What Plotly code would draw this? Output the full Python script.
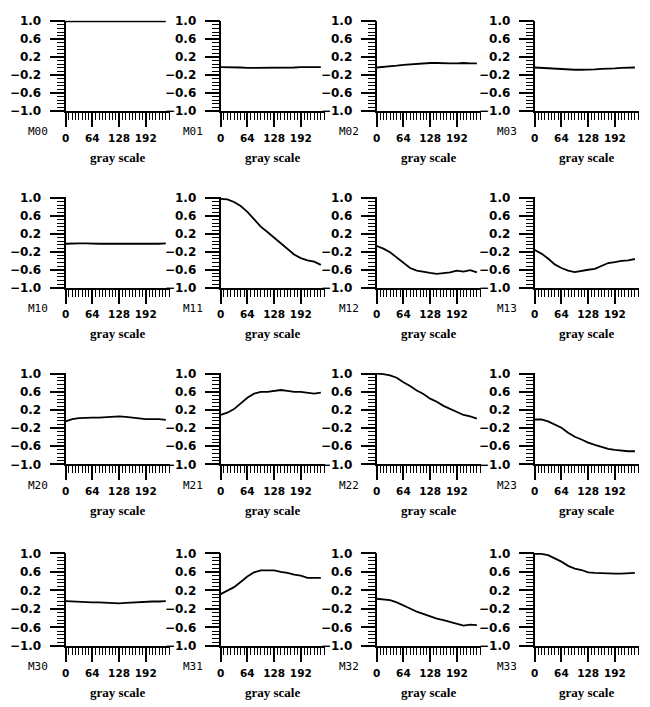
import plotly.graph_objects as go

gray = [0, 16, 32, 48, 64, 80, 96, 112, 128, 144, 160, 176, 192, 208, 224, 240]

M00 = [1.0] * 16
M01 = [-0.02, -0.02, -0.03, -0.03, -0.04, -0.04, -0.04, -0.04, -0.03, -0.03, -0.03, -0.03, -0.02, -0.02, -0.02, -0.02]
M02 = [-0.03, -0.02, 0.0, 0.01, 0.03, 0.04, 0.06, 0.07, 0.07, 0.07, 0.06, 0.06, 0.06, 0.07, 0.06, 0.06]
M03 = [-0.03, -0.04, -0.05, -0.05, -0.06, -0.07, -0.08, -0.08, -0.08, -0.07, -0.06, -0.06, -0.05, -0.04, -0.03, -0.03]
M10 = [-0.02, -0.01, -0.01, -0.01, -0.02, -0.02, -0.02, -0.02, -0.02, -0.02, -0.03, -0.03, -0.03, -0.02, -0.02, -0.01]
M11 = [0.98, 0.97, 0.91, 0.82, 0.69, 0.53, 0.36, 0.24, 0.11, -0.02, -0.13, -0.26, -0.34, -0.39, -0.42, -0.49]
M12 = [-0.07, -0.13, -0.21, -0.33, -0.45, -0.56, -0.62, -0.65, -0.67, -0.69, -0.67, -0.66, -0.62, -0.64, -0.61, -0.66]
M13 = [-0.16, -0.24, -0.35, -0.48, -0.56, -0.62, -0.65, -0.62, -0.60, -0.58, -0.51, -0.45, -0.43, -0.40, -0.39, -0.36]
M20 = [-0.05, 0.0, 0.02, 0.03, 0.03, 0.03, 0.04, 0.05, 0.06, 0.05, 0.03, 0.01, 0.0, 0.0, 0.0, -0.02]
M21 = [0.09, 0.14, 0.22, 0.35, 0.47, 0.56, 0.60, 0.60, 0.62, 0.64, 0.62, 0.60, 0.60, 0.58, 0.56, 0.58]
M22 = [1.0, 0.99, 0.96, 0.91, 0.81, 0.73, 0.63, 0.55, 0.45, 0.38, 0.29, 0.22, 0.15, 0.09, 0.06, 0.01]
M23 = [-0.01, -0.01, -0.05, -0.12, -0.19, -0.30, -0.39, -0.45, -0.52, -0.57, -0.62, -0.66, -0.68, -0.70, -0.71, -0.71]
M30 = [-0.03, -0.04, -0.05, -0.05, -0.06, -0.06, -0.07, -0.07, -0.08, -0.07, -0.06, -0.06, -0.05, -0.04, -0.04, -0.03]
M31 = [0.12, 0.19, 0.27, 0.38, 0.50, 0.59, 0.63, 0.63, 0.63, 0.60, 0.58, 0.54, 0.52, 0.47, 0.47, 0.47]
M32 = [0.02, 0.01, -0.01, -0.06, -0.12, -0.19, -0.26, -0.31, -0.36, -0.41, -0.44, -0.48, -0.52, -0.56, -0.54, -0.55]
M33 = [0.99, 0.99, 0.96, 0.89, 0.82, 0.73, 0.67, 0.64, 0.59, 0.58, 0.57, 0.57, 0.56, 0.56, 0.57, 0.58]

series = [[M00, M01, M02, M03], [M10, M11, M12, M13], [M20, M21, M22, M23], [M30, M31, M32, M33]]
names = [["M00", "M01", "M02", "M03"], ["M10", "M11", "M12", "M13"],
         ["M20", "M21", "M22", "M23"], ["M30", "M31", "M32", "M33"]]

x_tickvals = [0, 64, 128, 192]
x_ticktext = ["0", "64", "128", "192"]
y_tickvals = [-1.0, -0.6, -0.2, 0.2, 0.6, 1.0]
y_ticktext = ["\u22121.0", "\u22120.6", "\u22120.2", "0.2", "0.6", "1.0"]
xlabel = "gray scale"

W, H = 650, 707
cols_left = [62, 218, 375, 534]
pw = 105
rows_top = [15, 195, 374, 557]
rows_h = [92, 92, 93, 95]
XR = [0, 250]
YR = [-1.0, 1.012]

fig = go.Figure()
xtickfont = dict(family="DejaVu Sans", size=10.5, color="black", weight="bold")
ytickfont = dict(family="DejaVu Sans", size=12, color="black", weight="bold")
annotations = []
layout = {}
k = 0
for r in range(4):
    for c in range(4):
        k += 1
        xa = "x" if k == 1 else f"x{k}"
        ya = "y" if k == 1 else f"y{k}"
        xo = f"x{k + 16}"
        yo = f"y{k + 16}"
        fig.add_trace(go.Scatter(x=gray, y=series[r][c], mode="lines",
                                 line=dict(color="black", width=1.8),
                                 xaxis=xa, yaxis=ya, showlegend=False))
        # invisible copy that carries the labelled (major-tick) axes
        fig.add_trace(go.Scatter(x=gray, y=series[r][c], mode="lines", opacity=0,
                                 line=dict(color="black", width=1.8), hoverinfo="skip",
                                 xaxis=xo, yaxis=yo, showlegend=False))
        x0 = cols_left[c] / W
        x1 = (cols_left[c] + pw) / W
        ytop = 1 - rows_top[r] / H
        ybot = 1 - (rows_top[r] + rows_h[r]) / H
        xkey = "xaxis" if k == 1 else f"xaxis{k}"
        ykey = "yaxis" if k == 1 else f"yaxis{k}"
        layout[xkey] = dict(domain=[x0, x1], anchor=ya, range=XR,
                            tickmode="linear", tick0=0, dtick=8, showticklabels=False,
                            ticks="outside", ticklen=7, tickwidth=1.2, tickcolor="black",
                            showline=True, linecolor="black", linewidth=2,
                            showgrid=False, zeroline=False)
        layout[ykey] = dict(domain=[ybot, ytop], anchor=xa, range=YR,
                            tickmode="linear", tick0=-1.0, dtick=0.08, showticklabels=False,
                            ticks="outside", ticklen=7, tickwidth=1.2, tickcolor="black",
                            showline=True, linecolor="black", linewidth=2,
                            showgrid=False, zeroline=False)
        layout[f"xaxis{k + 16}"] = dict(overlaying=xa, anchor=yo, side="bottom", range=XR,
                                        tickmode="array", tickvals=x_tickvals, ticktext=x_ticktext,
                                        ticks="outside", ticklen=15, tickwidth=2, tickcolor="black",
                                        ticklabelstandoff=2, tickfont=xtickfont,
                                        showline=False, showgrid=False, zeroline=False)
        layout[f"yaxis{k + 16}"] = dict(overlaying=ya, anchor=xo, side="left", range=YR,
                                        tickmode="array", tickvals=y_tickvals, ticktext=y_ticktext,
                                        ticks="outside", ticklen=15, tickwidth=2, tickcolor="black",
                                        ticklabelstandoff=6, tickfont=ytickfont,
                                        showline=False, showgrid=False, zeroline=False)
        annotations.append(dict(text=names[r][c], xref="paper", yref="paper",
                                x=(cols_left[c] - 16) / W,
                                y=1 - (rows_top[r] + rows_h[r] + 21) / H,
                                xanchor="right", yanchor="middle", showarrow=False,
                                font=dict(family="DejaVu Sans Mono", size=11, color="black")))
        annotations.append(dict(text=xlabel, xref="paper", yref="paper",
                                x=(cols_left[c] + pw / 2) / W,
                                y=1 - (rows_top[r] + rows_h[r] + 47) / H,
                                xanchor="center", yanchor="middle", showarrow=False,
                                font=dict(family="Liberation Serif", size=13, color="black",
                                          weight="bold")))

fig.update_layout(layout)
fig.update_layout(width=W, height=H, margin=dict(l=0, r=0, t=0, b=0),
                  plot_bgcolor="white", paper_bgcolor="white",
                  annotations=annotations)

fig.write_html("out.html")
